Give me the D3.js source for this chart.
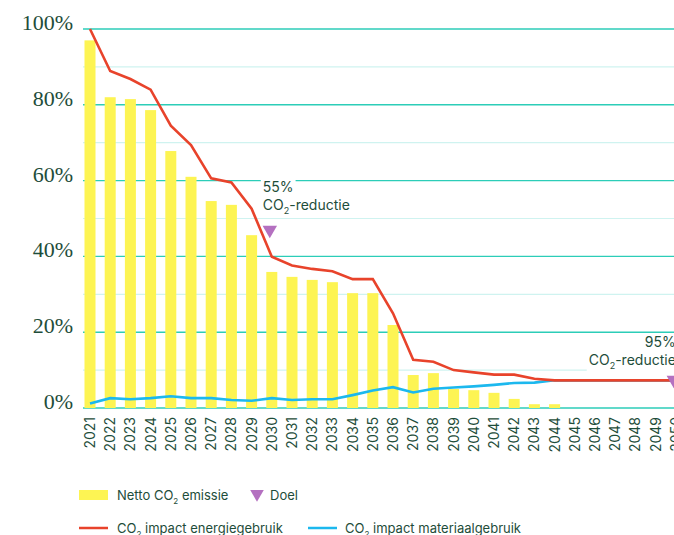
<!DOCTYPE html>
<html>
<head>
<meta charset="utf-8">
<script src="https://cdn.jsdelivr.net/npm/d3@7"></script>
<style>
  body { margin: 0; background: #ffffff; }
  svg { display: block; font-family: Inter, "Noto Sans", sans-serif; }
</style>
</head>
<body>
<div id="container"></div>
<script>
var w = 674
var h = 535

// data
var years = d3.range(2021, 2051)
var netto = [97, 82, 81.5, 78.6, 67.8, 61, 54.6, 53.6, 45.6, 35.9,
             34.6, 33.8, 33.2, 30.3, 30.3, 21.9, 8.7, 9.2, 5, 4.7,
             4, 2.4, 1, 1, 0, 0, 0, 0, 0, 0]
var energie = [100, 88.9, 86.8, 84, 74.5, 69.4, 60.6, 59.5, 52.6, 39.9,
               37.6, 36.7, 36.1, 34, 34, 25, 12.7, 12.2, 10, 9.4,
               8.8, 8.8, 7.7, 7.3, 7.3, 7.3, 7.3, 7.3, 7.3, 7.3]
var materiaal = [1.2, 2.6, 2.3, 2.6, 3.1, 2.6, 2.6, 2.1, 1.9, 2.6,
                 2.1, 2.3, 2.3, 3.4, 4.6, 5.5, 4.1, 5.1, 5.4, 5.7,
                 6.1, 6.6, 6.7, 7.3, 7.3, 7.3, 7.3, 7.3, 7.3, 7.3]
var doelYears = [2030, 2050]
var doelValues = [47, 7.4]
var doelLabels = [["55%", "CO", "-reductie"], ["95%", "CO", "-reductie"]]
var yTicks = [0, 20, 40, 60, 80, 100]
var yMinor = [10, 30, 50, 70, 90]

var svg = d3.select("#container").append("svg")
    .attr("width", w)
    .attr("height", h)

var x = d3.scalePoint().domain(years).range([90, 675.8])
var y = d3.scaleLinear().domain([0, 100]).range([408, 29])

var green = "#1e4d3a"

// grid
var grid = svg.append("g")
grid.selectAll("line.minor")
    .data(yMinor)
    .enter()
    .append("line")
    .attr("x1", 83).attr("x2", w)
    .attr("y1", d => y(d)).attr("y2", d => y(d))
    .attr("stroke", "#cff3f0")
    .attr("stroke-width", 1.2)
grid.selectAll("line.major")
    .data(yTicks)
    .enter()
    .append("line")
    .attr("x1", 83).attr("x2", w)
    .attr("y1", d => y(d)).attr("y2", d => y(d))
    .attr("stroke", "#2ccdb8")
    .attr("stroke-width", 1.4)

// y labels
svg.append("g").selectAll("text")
    .data(yTicks)
    .enter()
    .append("text")
    .attr("x", 73)
    .attr("y", d => y(d) + 1)
    .attr("text-anchor", "end")
    .attr("fill", green)
    .style("font-family", "'Liberation Serif', 'DejaVu Serif', serif")
    .style("font-size", "22px")
    .text(d => d + "%")

// x labels
svg.append("g").selectAll("text")
    .data(years)
    .enter()
    .append("text")
    .attr("transform", d => "translate(" + (x(d) + 5) + ",417) rotate(-90)")
    .attr("text-anchor", "end")
    .attr("fill", green)
    .style("font-size", "14px")
    .text(d => d)

// bars
svg.append("g").selectAll("rect")
    .data(years)
    .enter()
    .append("rect")
    .attr("x", d => x(d) - 5.5)
    .attr("width", 11)
    .attr("y", (d, i) => y(netto[i]))
    .attr("height", (d, i) => y(0) - y(netto[i]))
    .attr("fill", "#fdf453")

// target labels
doelYears.forEach(function (yr, i) {
    var lab = doelLabels[i]
    var g = svg.append("g")
    var left = i === 0
    var tx = left ? x(yr) - 9 : x(yr)
    var anchor = left ? "start" : "end"
    var y1 = left ? 192 : 347
    var l1 = g.append("text")
        .attr("x", tx).attr("y", y1)
        .attr("text-anchor", anchor)
        .attr("fill", green)
        .style("font-size", "14px")
        .text(lab[0])
    var l2 = g.append("text")
        .attr("x", tx).attr("y", y1 + 18)
        .attr("text-anchor", anchor)
        .attr("fill", green)
        .style("font-size", "14px")
    l2.append("tspan").text(lab[1])
    l2.append("tspan").attr("dy", 4).style("font-size", "9px").text("2")
    l2.append("tspan").attr("dy", -4).text(lab[2])
    ;[l1, l2].forEach(function (t) {
        var b = t.node().getBBox()
        g.insert("rect", "text")
            .attr("x", b.x - 2).attr("y", b.y)
            .attr("width", b.width + 4).attr("height", b.height + 1)
            .attr("fill", "#ffffff")
    })
})

// lines
var line = d3.line()
    .x((d, i) => x(years[i]))
    .y(d => y(d))

svg.append("path")
    .datum(materiaal)
    .attr("d", line)
    .attr("fill", "none")
    .attr("stroke", "#1cb8ee")
    .attr("stroke-width", 2.6)

svg.append("path")
    .datum(energie)
    .attr("d", line)
    .attr("fill", "none")
    .attr("stroke", "#e8432b")
    .attr("stroke-width", 2.6)

// target markers
var tri = d3.symbol().type(d3.symbolTriangle).size(90)
svg.append("g").selectAll("path")
    .data(doelYears)
    .enter()
    .append("path")
    .attr("d", tri)
    .attr("transform", (d, i) => "translate(" + (x(d) - 2) + "," + y(doelValues[i]) + ") rotate(180)")
    .attr("fill", "#b470c0")

// legend
var leg = svg.append("g").style("font-size", "13px").attr("fill", green)
leg.append("rect").attr("x", 79).attr("y", 490).attr("width", 29).attr("height", 10).attr("fill", "#fdf453")
var t1 = leg.append("text").attr("x", 117).attr("y", 500).attr("fill", green)
t1.append("tspan").text("Netto CO")
t1.append("tspan").attr("dy", 4).style("font-size", "8px").text("2")
t1.append("tspan").attr("dy", -4).text(" emissie")

leg.append("path")
    .attr("d", d3.symbol().type(d3.symbolTriangle).size(80))
    .attr("transform", "translate(257,494) rotate(180)")
    .attr("fill", "#b470c0")
leg.append("text").attr("x", 270).attr("y", 500).attr("fill", green).text("Doel")

leg.append("line").attr("x1", 79).attr("x2", 108).attr("y1", 528).attr("y2", 528)
    .attr("stroke", "#e8432b").attr("stroke-width", 2.5)
var t2 = leg.append("text").attr("x", 117).attr("y", 533).attr("fill", green)
t2.append("tspan").text("CO")
t2.append("tspan").attr("dy", 4).style("font-size", "8px").text("2")
t2.append("tspan").attr("dy", -4).text(" impact energiegebruik")

leg.append("line").attr("x1", 308).attr("x2", 337).attr("y1", 528).attr("y2", 528)
    .attr("stroke", "#1cb8ee").attr("stroke-width", 2.5)
var t3 = leg.append("text").attr("x", 345).attr("y", 533).attr("fill", green)
t3.append("tspan").text("CO")
t3.append("tspan").attr("dy", 4).style("font-size", "8px").text("2")
t3.append("tspan").attr("dy", -4).text(" impact materiaalgebruik")
</script>
</body>
</html>
